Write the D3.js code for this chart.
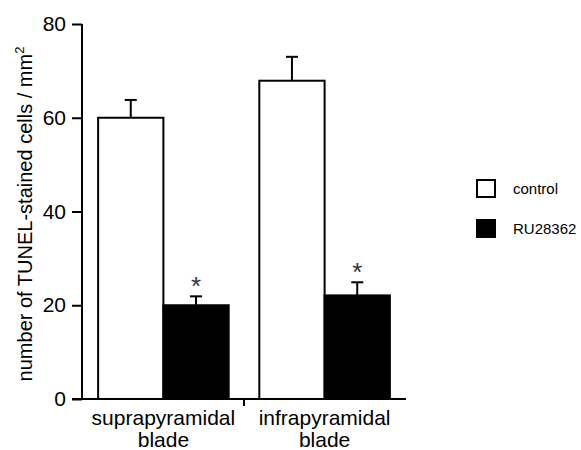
<!DOCTYPE html>
<html>
<head>
<meta charset="utf-8">
<script src="https://cdn.jsdelivr.net/npm/d3@7"></script>
<style>
  body { margin: 0; background: #fff; }
  text { font-family: "Liberation Sans", Arial, sans-serif; fill: #000; }
</style>
</head>
<body>
<script>
// data
var categories = ["suprapyramidal blade", "infrapyramidal blade"];
var series = ["control", "RU28362"];
var meanValues = [[60, 20], [67.9, 22.1]];   // [category][series]
var errValues = [[3.8, 1.9], [5.1, 2.8]];   // SEM
var significant = [[false, true], [false, true]];
var yTicks = [0, 20, 40, 60, 80];
var seriesFill = ["#ffffff", "#000000"];

var W = 581, H = 450;

var svg = d3.select("body").append("svg")
	.attr("width", W)
	.attr("height", H);

// scales
var y = d3.scaleLinear().domain([0, 80]).range([399, 24]);
var x0 = d3.scaleBand().domain(categories).range([82, 406])
	.paddingInner(0.19).paddingOuter(0.1);
var x1 = d3.scaleBand().domain(series).range([0, x0.bandwidth()]);

// bars
var groups = svg.selectAll("g.grp")
	.data(categories)
	.enter().append("g")
	.attr("class", "grp")
	.attr("transform", function(d){ return "translate(" + x0(d) + ",0)"; });

groups.each(function(cat, ci){
	var g = d3.select(this);
	series.forEach(function(s, si){
		var bx = x1(s), bw = x1.bandwidth();
		var cx = bx + bw / 2;
		var top = y(meanValues[ci][si] + errValues[ci][si]);
		// error bar (up only)
		g.append("line")
			.attr("x1", cx).attr("x2", cx)
			.attr("y1", y(meanValues[ci][si])).attr("y2", top)
			.attr("stroke", "#000").attr("stroke-width", 2);
		g.append("line")
			.attr("x1", cx - 6).attr("x2", cx + 6)
			.attr("y1", top).attr("y2", top)
			.attr("stroke", "#000").attr("stroke-width", 2);
		g.append("rect")
			.attr("x", bx)
			.attr("y", y(meanValues[ci][si]))
			.attr("width", bw)
			.attr("height", y(0) - y(meanValues[ci][si]))
			.attr("fill", seriesFill[si])
			.attr("stroke", "#000")
			.attr("stroke-width", 2);
		if (significant[ci][si]) {
			g.append("text")
				.attr("x", cx)
				.attr("y", top - 1)
				.attr("text-anchor", "middle")
				.style("font-size", "26px")
				.style("fill", "#333")
				.text("*");
		}
	});
});

// y axis
var yAxis = svg.append("g")
	.attr("transform", "translate(82,0)")
	.call(d3.axisLeft(y).tickValues(yTicks).tickSize(10).tickPadding(6));
yAxis.select(".domain").attr("stroke-width", 2).attr("d", "M0," + y(80) + "V" + y(0));
yAxis.selectAll(".tick line").attr("stroke-width", 2);
yAxis.selectAll(".tick text")
	.style("font-size", "21px")
	.style("font-family", "'Liberation Sans', Arial, sans-serif");

// x axis line with a tick between the groups
svg.append("line")
	.attr("x1", 72).attr("x2", 406)
	.attr("y1", y(0)).attr("y2", y(0))
	.attr("stroke", "#000").attr("stroke-width", 2);
var midX = (x0(categories[0]) + x0.bandwidth() + x0(categories[1])) / 2;
svg.append("line")
	.attr("x1", midX).attr("x2", midX)
	.attr("y1", y(0)).attr("y2", y(0) + 7)
	.attr("stroke", "#000").attr("stroke-width", 2);

// category labels (two lines)
categories.forEach(function(c){
	var words = c.split(" ");
	var t = svg.append("text")
		.attr("text-anchor", "middle")
		.attr("x", x0(c) + x0.bandwidth() / 2)
		.attr("y", 425)
		.style("font-size", "21px");
	t.append("tspan").attr("x", x0(c) + x0.bandwidth() / 2).text(words[0]);
	t.append("tspan").attr("x", x0(c) + x0.bandwidth() / 2).attr("dy", 22).text(words[1]);
});

// y label
var yl = svg.append("text")
	.attr("transform", "translate(32,214) rotate(-90)")
	.attr("text-anchor", "middle")
	.style("font-size", "20px");
yl.append("tspan").text("number of TUNEL-stained cells / mm");
yl.append("tspan").attr("dy", -8).style("font-size", "13px").text("2");

// legend
var legend = svg.selectAll("g.leg")
	.data(series)
	.enter().append("g")
	.attr("class", "leg")
	.attr("transform", function(d,i){ return "translate(477," + (180 + i * 40) + ")"; });
legend.append("rect")
	.attr("width", 18).attr("height", 17)
	.attr("fill", function(d,i){ return seriesFill[i]; })
	.attr("stroke", "#000").attr("stroke-width", 2);
legend.append("text")
	.attr("x", 36).attr("y", 14)
	.style("font-size", "15px")
	.text(function(d){ return d; });
</script>
</body>
</html>
